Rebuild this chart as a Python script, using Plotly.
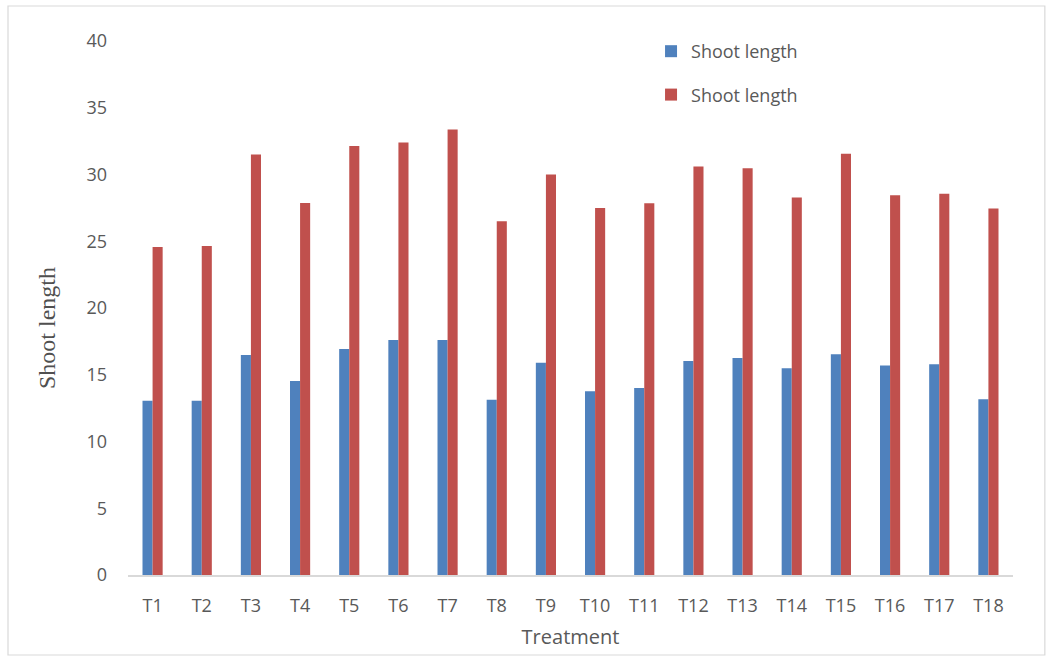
import plotly.graph_objects as go

treatments = [f"T{i}" for i in range(1, 19)]
shoot_length_a = [13.06, 13.06, 16.48, 14.53, 16.93, 17.6, 17.6, 13.13, 15.9,
                  13.76, 14.0, 16.03, 16.25, 15.48, 16.53, 15.7, 15.78, 13.16]
shoot_length_b = [24.57, 24.64, 31.5, 27.86, 32.13, 32.4, 33.38, 26.5, 30.0,
                  27.49, 27.84, 30.6, 30.46, 28.27, 31.56, 28.44, 28.56, 27.46]
y_ticks = [0, 5, 10, 15, 20, 25, 30, 35, 40]

BLUE = "#4f81bd"
RED = "#c0504d"
GREY_TEXT = "#595959"

fig = go.Figure()
fig.add_trace(go.Bar(x=treatments, y=shoot_length_a, name="Shoot length",
                     marker=dict(color=BLUE, line=dict(width=0)),
                     legendgroup="a"))
fig.add_trace(go.Bar(x=treatments, y=shoot_length_b, name="Shoot length",
                     marker=dict(color=RED, line=dict(width=0)),
                     legendgroup="b"))

# light frame around the whole chart
fig.add_shape(type="rect", xref="paper", yref="paper",
              x0=-0.1356, x1=1.036, y0=-0.1498, y1=1.0655,
              line=dict(color="#d9d9d9", width=1.2), fillcolor="rgba(0,0,0,0)",
              layer="below")

# vertical axis title, set slightly below the plot's midpoint
fig.add_annotation(text="Shoot length", textangle=-90,
                   xref="paper", yref="paper", x=-0.0915, y=0.4625,
                   xanchor="center", yanchor="middle", showarrow=False,
                   font=dict(family="Liberation Serif, Times New Roman, serif",
                             size=24, color="#505050"))

fig.update_layout(
    width=1049, height=658,
    margin=dict(l=128, r=36, t=41, b=83),
    paper_bgcolor="white", plot_bgcolor="white",
    barmode="group", bargap=0.59, bargroupgap=0,
    font=dict(family="Open Sans, Liberation Sans, sans-serif", color=GREY_TEXT, size=18),
    legend=dict(x=0.591, y=1.015, xanchor="left", yanchor="top",
                font=dict(size=18, color=GREY_TEXT),
                traceorder="grouped", tracegroupgap=17,
                itemwidth=30, bgcolor="rgba(0,0,0,0)"),
    xaxis=dict(
        showgrid=False, showline=True, linecolor="#d9d9d9", linewidth=1.5,
        ticks="", ticklabelstandoff=14, tickfont=dict(size=18, color=GREY_TEXT),
        title=dict(text="Treatment", font=dict(size=20, color=GREY_TEXT), standoff=14),
    ),
    yaxis=dict(
        range=[0, 40], tickvals=y_ticks, showgrid=False, zeroline=False,
        showline=False, ticks="", ticklabelstandoff=20,
        tickfont=dict(size=18, color=GREY_TEXT),
    ),
)

fig.write_html("out.html")
